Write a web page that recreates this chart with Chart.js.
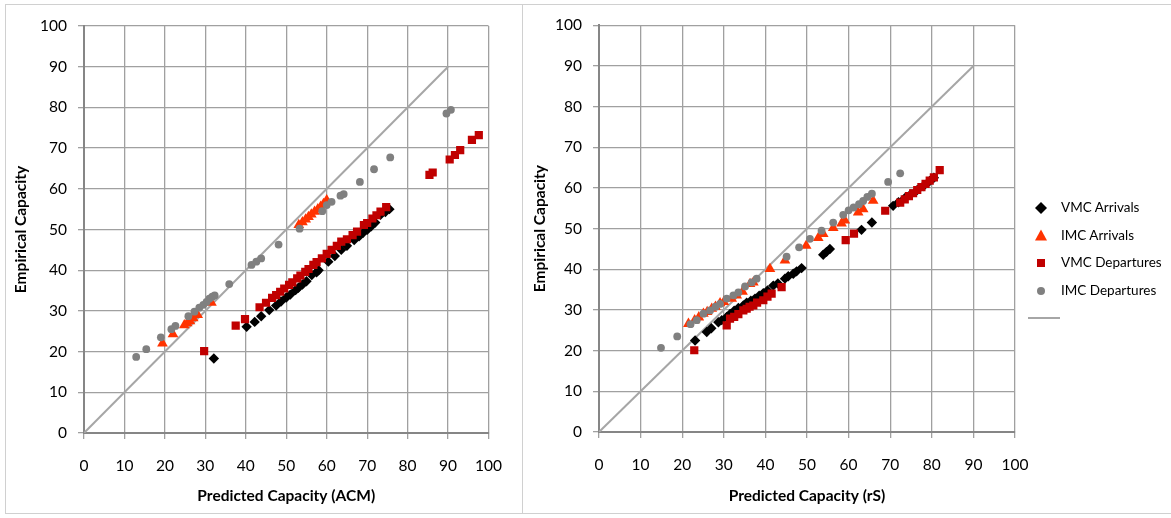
<!DOCTYPE html>
<html><head><meta charset="utf-8">
<script src="https://cdn.jsdelivr.net/npm/chart.js@4.4.1/dist/chart.umd.min.js"></script>
<style>
body{margin:0;background:#fff;width:1171px;height:518px;overflow:hidden;position:relative;font-family:Lato,'Open Sans',sans-serif}
.panel{position:absolute;border:1px solid #d0d0d0;box-sizing:border-box}
canvas{position:absolute}
#legend{position:absolute;left:1026px;top:198px;font-size:13.5px;color:#000}
#legend .it{position:absolute;left:0;height:20px;width:150px;white-space:nowrap}
#legend svg{position:absolute;left:0;top:0}
#legend span{position:absolute;left:35px;top:1px}
</style></head>
<body>
<div class="panel" style="left:5px;top:4px;width:518px;height:510px"></div>
<div class="panel" style="left:522px;top:4px;width:660px;height:510px"></div>
<canvas id="c1" width="514" height="507" style="left:6px;top:5px"></canvas>
<canvas id="c2" width="646" height="507" style="left:525px;top:5px"></canvas>
<div id="legend">
 <div class="it" style="top:0px"><svg width="30" height="20"><path d="M15 4 L21 10 L15 16 L9 10 Z" fill="#000"/></svg><span>VMC Arrivals</span></div>
 <div class="it" style="top:28px"><svg width="30" height="20"><path d="M15 3.5 L21 14.5 L9 14.5 Z" fill="#ff3300"/></svg><span>IMC Arrivals</span></div>
 <div class="it" style="top:55px"><svg width="30" height="20"><rect x="11" y="6" width="8" height="8" fill="#c00000"/></svg><span>VMC Departures</span></div>
 <div class="it" style="top:83px"><svg width="30" height="20"><circle cx="15" cy="10" r="4" fill="#808080"/></svg><span>IMC Departures</span></div>
 <div class="it" style="top:110px"><svg width="34" height="20"><line x1="2" y1="10" x2="34" y2="10" stroke="#a6a6a6" stroke-width="2"/></svg></div>
</div>
<script>
// ---------- Data ----------
const seriesNames = ["VMC Arrivals", "IMC Arrivals", "VMC Departures", "IMC Departures"];
const tickValues = [0, 10, 20, 30, 40, 50, 60, 70, 80, 90, 100];
const diagX = [0, 90];
const diagY = [0, 90];

// Left chart: Predicted Capacity (ACM)
const acmVmcArrX = [32.1, 40.2, 42.2, 43.8, 45.8, 47.5, 48.7, 50, 51, 52.3, 53, 54, 55, 56.3, 57.5, 58, 60.4, 62, 63.6, 65, 66.8, 68, 69, 70, 71, 72, 73.3, 74.5, 75.5];
const acmVmcArrY = [18.3, 26.1, 27.3, 28.7, 30.2, 31.3, 32.3, 33.3, 34, 35.1, 35.7, 36.5, 37.3, 38.8, 39.5, 40, 42.1, 43.5, 45, 46, 47.4, 48.3, 49.2, 49.9, 50.8, 51.7, 53.6, 54.3, 55];
const acmImcArrX = [19.4, 22.0, 24.8, 25.5, 26.2, 27, 28.1, 31.5, 53.1, 54, 54.8, 55.5, 56.2, 57, 57.8, 58.5, 59.2, 60];
const acmImcArrY = [22.0, 24.3, 26.5, 27, 27.5, 28.2, 29, 32, 51.1, 51.8, 52.5, 53.1, 53.7, 54.4, 55, 55.6, 56.3, 57.2];
const acmVmcDepX = [29.7, 37.5, 39.8, 43.4, 45, 46.5, 47.5, 48.5, 49.5, 50.7, 51.5, 52.7, 53.5, 54.7, 55.5, 56.7, 57.5, 58.8, 60, 61.2, 62.5, 63.6, 65, 66.4, 67.5, 69.2, 70, 71.3, 72.3, 73.3, 74.7, 85.4, 86.2, 90.4, 91.7, 93, 95.9, 97.6];
const acmVmcDepY = [20.1, 26.4, 28.0, 30.9, 32, 33.2, 33.9, 34.7, 35.5, 36.4, 37, 38, 38.7, 39.6, 40.3, 41.3, 42, 42.9, 44, 45, 46, 47, 47.6, 48.6, 49.5, 51.1, 51.6, 52.7, 53.5, 54.4, 55.5, 63.4, 64, 67.2, 68.3, 69.5, 72, 73.2];
const acmImcDepX = [12.9, 15.4, 19.0, 21.6, 22.6, 25.8, 27.3, 28.5, 29.5, 30.3, 31, 31.7, 32.3, 35.9, 41.4, 42.6, 43.8, 48.1, 53.3, 58.9, 60, 61.2, 63.4, 64.2, 68.2, 71.7, 75.7, 89.6, 90.7];
const acmImcDepY = [18.7, 20.6, 23.5, 25.5, 26.3, 28.7, 29.8, 30.8, 31.5, 32.2, 33.0, 33.5, 33.8, 36.6, 41.3, 42.1, 42.9, 46.3, 50.2, 54.5, 56, 56.8, 58.3, 58.7, 61.7, 64.8, 67.7, 78.5, 79.4];

// Right chart: Predicted Capacity (rS)
const rsVmcArrX = [23.1, 25.9, 27, 28.7, 29.5, 30.7, 31.5, 32.5, 33.5, 34.7, 35.5, 36.5, 37.5, 38.5, 39.5, 40.5, 41.9, 43, 44.7, 45.5, 46.7, 47.5, 48.7, 53.9, 54.7, 55.5, 63.1, 65.6, 70.7, 72, 73.5, 75, 76.5, 78, 79.5, 80.5];
const rsVmcArrY = [22.5, 24.6, 25.5, 27.0, 27.5, 28.3, 29, 29.8, 30.5, 31.1, 31.8, 32.3, 32.8, 33.5, 34.1, 34.8, 36, 36.5, 37.7, 38.3, 38.9, 39.5, 40.3, 43.6, 44.3, 45, 49.7, 51.5, 55.6, 56.5, 57.5, 58.5, 59.5, 60.5, 61.7, 62.5];
const rsImcArrX = [21.5, 23, 24, 25.1, 26, 27.1, 28, 29.1, 30, 31.9, 33.1, 34.5, 36.3, 37.1, 41.1, 44.7, 49.8, 52.7, 53.9, 56.3, 58.3, 59.1, 62.3, 63.5, 65.9];
const rsImcArrY = [26.6, 27.5, 28.2, 29.1, 29.5, 30.3, 30.8, 31.7, 32, 32.8, 33.6, 34.5, 36.4, 36.8, 40.1, 42.2, 45.8, 47.7, 48.7, 50.2, 51.3, 52, 54, 54.8, 56.9];
const rsVmcDepX = [22.9, 30.7, 31.5, 32.5, 33.5, 34.7, 35.5, 36.2, 37.1, 38, 39.5, 40.5, 41.5, 43.9, 59.3, 61.3, 68.8, 72.4, 73.5, 74.5, 75.5, 76.5, 77.5, 78.5, 79.5, 80.5, 81.9];
const rsVmcDepY = [20.1, 26.2, 27.9, 28.3, 29, 29.9, 30.3, 30.8, 31.1, 31.8, 32.4, 33.3, 34, 35.6, 47.2, 48.8, 54.4, 56.4, 57.2, 58, 58.7, 59.5, 60.2, 61, 61.8, 62.6, 64.4];
const rsImcDepX = [14.9, 18.8, 22, 23.5, 25.1, 26.7, 28, 29.1, 30.7, 32.3, 33.5, 35.1, 36.7, 37.9, 45.1, 48.1, 50.7, 53.5, 56.3, 58.7, 60, 61.2, 62.5, 63.5, 64.5, 65.6, 69.5, 72.4];
const rsImcDepY = [20.7, 23.5, 26.5, 27.5, 29.1, 29.9, 30.8, 31.5, 32.8, 33.6, 34.3, 35.8, 36.8, 37.7, 43.1, 45.4, 47.5, 49.5, 51.5, 53.4, 54.5, 55.2, 56, 56.8, 57.8, 58.6, 61.5, 63.6];

// ---------- Build ----------
const FONT = "Lato, 'Open Sans', sans-serif";
const pts = (xs, ys) => xs.map((x, i) => ({x: x, y: ys[i]}));
const styles = [
  {pointStyle: 'rectRot', radius: 5.2, color: '#000000', order: 4},
  {pointStyle: 'triangle', radius: 6.2, color: '#ff3300', order: 3},
  {pointStyle: 'rect', radius: 5.8, color: '#c00000', order: 2},
  {pointStyle: 'circle', radius: 3.9, color: '#808080', order: 1}
];

function makeChart(id, seriesX, seriesY, xTitle, geo) {
  const datasets = seriesX.map((xs, i) => ({
    label: seriesNames[i],
    data: pts(xs, seriesY[i]),
    pointStyle: styles[i].pointStyle,
    pointRadius: styles[i].radius,
    pointHoverRadius: styles[i].radius,
    backgroundColor: styles[i].color,
    borderColor: styles[i].color,
    borderWidth: 0,
    showLine: false,
    order: styles[i].order
  }));
  datasets.push({
    label: '',
    data: pts(diagX, diagY),
    showLine: true,
    borderColor: '#a6a6a6',
    borderWidth: 2,
    pointRadius: 0,
    order: 5
  });
  return new Chart(document.getElementById(id), {
    type: 'scatter',
    data: {datasets: datasets},
    options: {
      responsive: false,
      animation: false,
      layout: {padding: {left: 0, top: geo.top, right: geo.right, bottom: 0}},
      plugins: {legend: {display: false}, tooltip: {enabled: false}},
      scales: {
        x: {
          type: 'linear', min: 0, max: 100,
          afterBuildTicks: s => { s.ticks = tickValues.map(v => ({value: v})); },
          afterFit: s => { s.height = geo.xh; },
          ticks: {font: {family: FONT, size: 15.5}, color: '#000', padding: 18, maxRotation: 0},
          grid: {color: '#a0a0a0', lineWidth: 1.3, tickLength: 6},
          border: {color: '#868686', width: 2},
          title: {display: true, text: xTitle, color: '#000', font: {family: FONT, size: 15.5, weight: 'bold'}, padding: {top: 0, bottom: 7}}
        },
        y: {
          type: 'linear', min: 0, max: 100,
          afterBuildTicks: s => { s.ticks = tickValues.map(v => ({value: v})); },
          afterFit: s => { s.width = geo.yw; },
          ticks: {font: {family: FONT, size: 15.5}, color: '#000', padding: 11},
          grid: {color: '#a0a0a0', lineWidth: 1.3, tickLength: 6},
          border: {color: '#868686', width: 2},
          title: {display: true, text: 'Empirical Capacity', color: '#000', font: {family: FONT, size: 15.5, weight: 'bold'}, padding: {top: 6, bottom: 0}}
        }
      }
    }
  });
}

makeChart('c1', [acmVmcArrX, acmImcArrX, acmVmcDepX, acmImcDepX], [acmVmcArrY, acmImcArrY, acmVmcDepY, acmImcDepY],
  'Predicted Capacity (ACM)', {top: 21, right: 23, xh: 79, yw: 78});
makeChart('c2', [rsVmcArrX, rsImcArrX, rsVmcDepX, rsImcDepX], [rsVmcArrY, rsImcArrY, rsVmcDepY, rsImcDepY],
  'Predicted Capacity (rS)', {top: 19, right: 156, xh: 80, yw: 74});
</script>
</body></html>
